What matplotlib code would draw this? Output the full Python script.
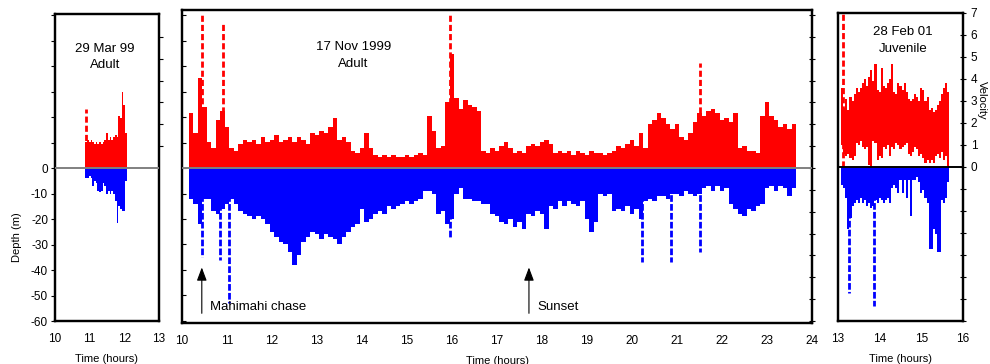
import numpy as np
import matplotlib
matplotlib.use("Agg")
import matplotlib.pyplot as plt

plt.rcParams['font.family'] = ['Liberation Sans', 'DejaVu Sans']
plt.rcParams['axes.unicode_minus'] = False

# ---------------- data ----------------
# Panel 1: 29 Mar 99, Adult (samples every 0.05 h from 10.90 h)
adult99_start, adult99_step = 10.90, 0.05
adult99_vel = [1.2, 1.3, 1.2, 1.3, 1.2, 1.1, 1.2, 1.1, 1.2, 1.1, 1.2, 1.3,
               1.6, 1.3, 1.4, 1.3, 1.4, 1.5, 1.4, 2.4, 2.3, 3.5, 2.9, 1.6]
adult99_depth = [-4, -4, -3, -4, -7, -5, -6, -9, -9.5, -9, -6, -7,
                 -10, -9, -10, -9, -10, -13, -21.5, -15, -16, -17, -17, -5]
adult99_vel_spikes = [(10.88, 2.7)]
adult99_depth_spikes = []

# Panel 2: 17 Nov 1999, Adult (samples every 0.1 h from 10.2 h)
adult_start, adult_step = 10.2, 0.1
adult_vel = [
    2.5, 1.6, 4.1, 2.8, 1.2, 0.9, 2.2, 2.6,                     # 10.2-10.9
    1.9, 0.9, 0.8, 1.1, 1.3, 1.2, 1.3, 1.1, 1.4, 1.2,           # 11
    1.3, 1.5, 1.2, 1.3, 1.4, 1.2, 1.4, 1.3, 1.1, 1.6,           # 12
    1.5, 1.7, 1.6, 1.9, 2.3, 1.3, 1.4, 1.2, 0.8, 0.7,           # 13
    0.9, 1.6, 0.9, 0.6, 0.5, 0.6, 0.5, 0.6, 0.5, 0.5,           # 14
    0.6, 0.5, 0.6, 0.7, 0.6, 2.4, 1.7, 0.9, 1.0, 3.0,           # 15
    5.2, 3.2, 2.7, 3.1, 2.9, 2.8, 2.6, 0.8, 0.7, 0.9,           # 16
    0.8, 1.0, 1.2, 0.9, 0.7, 0.8, 0.7, 1.0, 1.1, 1.0,           # 17
    1.2, 1.3, 1.1, 0.7, 0.8, 0.7, 0.8, 0.6, 0.8, 0.7,           # 18
    0.6, 0.8, 0.7, 0.7, 0.6, 0.7, 0.8, 1.0, 0.9, 1.1,           # 19
    1.3, 1.0, 1.6, 0.9, 2.0, 2.2, 2.5, 2.3, 2.0, 1.8,           # 20
    2.0, 1.4, 1.3, 1.6, 2.1, 2.5, 2.4, 2.6, 2.7, 2.5,           # 21
    2.2, 2.3, 2.1, 2.5, 0.9, 1.0, 0.8, 0.8, 0.7, 2.4,           # 22
    3.0, 2.4, 2.2, 1.9, 2.0, 1.8, 2.0]                          # 23.0-23.6
adult_depth = [
    -12, -14, -22, -12, -12, -17, -18, -16,                     # 10.2-10.9
    -14, -12, -14, -17, -18, -19, -20, -19, -20, -22,           # 11
    -25, -27, -29, -30, -33, -38, -34, -29, -27, -25,           # 12
    -26, -28, -26, -27, -28, -30, -27, -25, -23, -22,           # 13
    -16, -21, -20, -18, -17, -18, -15, -16, -15, -14,           # 14
    -13, -14, -13, -12, -9, -9, -10, -18, -17, -22,             # 15
    -20, -10, -8, -12, -12, -13, -13, -14, -14, -18,            # 16
    -19, -21, -22, -20, -23, -21, -24, -18, -19, -17,           # 17
    -18, -24, -15, -16, -13, -15, -13, -14, -15, -13,           # 18
    -20, -25, -21, -10, -11, -10, -17, -16, -17, -15,           # 19
    -18, -16, -20, -13, -12, -13, -11, -11, -12, -10,           # 20
    -10, -11, -9, -10, -11, -10, -8, -7, -9, -7,                # 21
    -9, -8, -14, -16, -18, -19, -16, -17, -15, -14,             # 22
    -8, -7, -9, -7, -8, -11, -8]                                # 23.0-23.6
adult_vel_spikes = [(10.45, 7.0), (10.9, 6.7), (15.96, 7.1), (21.5, 4.8)]
adult_depth_spikes = [(10.45, -35), (10.85, -36), (11.05, -53), (15.95, -28),
                      (20.22, -37), (20.87, -37), (21.5, -33)]

# Panel 3: 28 Feb 01, Juvenile (samples every 0.05 h from 13.10 h)
juv_start, juv_step = 13.10, 0.05
juv_vel_high = [3.6, 2.7, 3.1, 2.6, 3.2, 3.0, 3.3, 3.6, 3.4, 3.6, 3.8, 4.0, 3.7,
                4.1, 4.4, 3.9, 4.7, 3.5, 3.4, 4.5, 3.7, 3.6, 3.8, 4.0, 4.7, 3.4,
                3.3, 3.8, 3.7, 3.5, 3.8, 3.4, 3.1, 3.0, 3.1, 3.3, 3.2, 3.0, 3.6,
                3.5, 3.0, 3.2, 2.6, 2.7, 2.5, 2.6, 2.8, 3.0, 3.3, 3.6, 3.8, 3.4]
juv_vel_low = [1.0, 0.6, 0.5, 0.6, 0.4, 0.3, 0.5, 1.1, 1.0, 1.2, 0.9, 0.8, 0.9,
               0.1, 0.0, 1.2, 1.1, 0.3, 0.5, 0.4, 0.9, 0.8, 1.0, 0.5, 0.9, 0.8,
               1.1, 1.0, 0.8, 0.9, 1.0, 1.1, 0.6, 0.5, 0.7, 0.9, 0.8, 0.5, 0.6,
               0.4, 0.2, 0.3, 0.2, 0.3, 0.2, 0.5, 0.6, 0.4, 0.7, 0.3, 0.5, 0.0]
juv_depth = [-7, -8, -12, -24, -20, -15, -14, -13, -14, -12, -14, -13, -15,
             -14, -16, -15, -13, -14, -12, -13, -14, -13, -12, -14, -8, -7,
             -8, -10, -5, -10, -5, -12, -5, -19, -5, -5, -4, -6, -10, -9,
             -12, -14, -32, -32, -24, -26, -33, -33, -13, -14, -12, -6]
juv_vel_spikes = [(13.12, 7.0)]
juv_depth_spikes = [(13.27, -49), (13.87, -54)]

depth_ticks = list(range(-60, 61, 10))
vel_ticks = list(range(-7, 8))

RED = '#ff0000'
BLUE = '#0000ff'
W, H = 990, 364
fig = plt.figure(figsize=(W / 100, H / 100), dpi=100)


def px_axes(x0, y0, x1, y1):
    return fig.add_axes([x0 / W, 1 - y1 / H, (x1 - x0) / W, (y1 - y0) / H])


def draw(ax, start, step, vel_hi, depth, vel_lo=None, vspk=(), dspk=(),
         xlim=(10, 13), dlim=(-60, 60), zero_color='#808080'):
    n = len(vel_hi)
    t = start + step * np.arange(n)
    lo = np.zeros(n) if vel_lo is None else np.array(vel_lo)
    hi = np.array(vel_hi)
    ax2 = ax.twinx()
    vlim = (dlim[0] * 7 / 60, dlim[1] * 7 / 60)
    ax.bar(t, depth, width=step, color=BLUE, linewidth=0, zorder=2)
    for ts, d in dspk:
        ax.vlines(ts, 0, d, colors=BLUE, lw=2.0, linestyles=(0, (2.4, 0.8)), zorder=2)
    ax2.bar(t, hi - lo, bottom=lo, width=step, color=RED, linewidth=0, zorder=2)
    for ts, v in vspk:
        ax2.vlines(ts, 0, v, colors=RED, lw=2.0, linestyles=(0, (2.2, 1.1)), zorder=2)
    ax2.axhline(0, color=zero_color, lw=1.4, zorder=3)
    ax.set_xlim(*xlim)
    ax.set_ylim(*dlim)
    ax2.set_ylim(*vlim)
    ax.set_xticks(range(xlim[0], xlim[1] + 1))
    ax.tick_params(axis='x', length=0, pad=9, labelsize=8.5)
    for a in (ax, ax2):
        for s in a.spines.values():
            s.set_linewidth(1.6)
    return ax2


# Panel 1
axL = px_axes(55, 14, 159, 321)
axL2 = draw(axL, adult99_start, adult99_step, adult99_vel, adult99_depth,
            vspk=adult99_vel_spikes, dspk=adult99_depth_spikes, xlim=(10, 13), dlim=(-60, 60.4))
axL.set_yticks(depth_ticks)
axL.set_yticklabels([str(v) if v <= 0 else '' for v in depth_ticks])
axL.tick_params(axis='y', direction='out', length=3, labelsize=8.5, pad=2)
axL2.set_yticks([1, 2, 3, 4, 5, 6])
axL2.set_yticklabels([])
axL2.tick_params(axis='y', direction='out', length=3)
axL.set_xlabel('Time (hours)', fontsize=8, labelpad=6)
fig.text(17 / W, 1 - 237 / H, 'Depth (m)', rotation=90, fontsize=8, ha='center', va='center')
axL.text(0.48, 0.86, '29 Mar 99\nAdult', transform=axL.transAxes, ha='center', va='center',
         fontsize=9.5, linespacing=1.5)

# Panel 2
axM = px_axes(182, 10, 812, 323)
axM2 = draw(axM, adult_start, adult_step, adult_vel, adult_depth,
            vspk=adult_vel_spikes, dspk=adult_depth_spikes, xlim=(10, 24), dlim=(-60.8, 62))
axM.set_yticks(depth_ticks)
axM.set_yticklabels([])
axM.tick_params(axis='y', direction='in', length=3)
axM2.set_yticks(vel_ticks)
axM2.set_yticklabels([])
axM2.tick_params(axis='y', direction='inout', length=4)
axM.set_xlabel('Time (hours)', fontsize=8, labelpad=6)
axM.xaxis.set_label_coords((497 - 182) / 630, -0.105)
axM.text(0.272, 0.855, '17 Nov 1999\nAdult', transform=axM.transAxes, ha='center', va='center',
         fontsize=9.5, linespacing=1.5)
for ta, label in [(10.44, 'Mahimahi chase'), (17.71, 'Sunset')]:
    axM.annotate('', xy=(ta, -39.0), xytext=(ta, -57.0),
                 arrowprops=dict(arrowstyle='-|>,head_length=0.8,head_width=0.3',
                                 color='black', lw=0.8, shrinkA=0, shrinkB=0))
    axM.text(ta + 0.18, -54.5, label, ha='left', va='center', fontsize=9.5)

# Panel 3
axR = px_axes(838, 13, 963, 321)
axR2 = draw(axR, juv_start, juv_step, juv_vel_high, juv_depth, vel_lo=juv_vel_low,
            vspk=juv_vel_spikes, dspk=juv_depth_spikes, xlim=(13, 16), dlim=(-60, 60),
            zero_color='black')
axR.set_yticks([])
axR2.set_yticks(vel_ticks)
axR2.set_yticklabels([str(v) if v >= 0 else '' for v in vel_ticks])
axR2.tick_params(axis='y', direction='inout', length=5, labelsize=8.5, pad=3)
axR.set_xlabel('Time (hours)', fontsize=8, labelpad=6)
axR.text(0.52, 0.91, '28 Feb 01\nJuvenile', transform=axR.transAxes, ha='center', va='center',
         fontsize=9.5, linespacing=1.5)
fig.text(982 / W, 1 - 100 / H, 'Velocity', rotation=270, fontsize=8, ha='center', va='center')

fig.savefig('out.png', dpi=100)
